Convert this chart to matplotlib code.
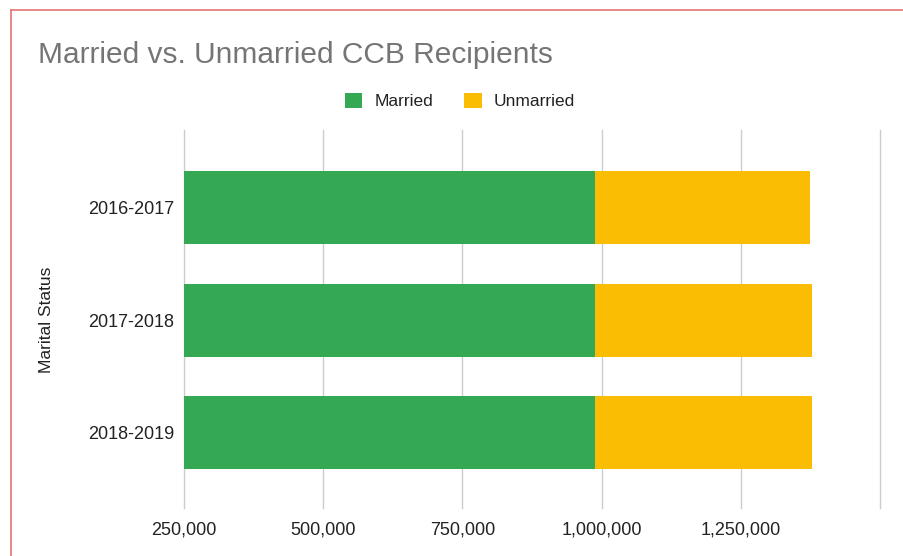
import matplotlib
matplotlib.use("Agg")
import matplotlib.pyplot as plt
from matplotlib.patches import Patch
from matplotlib.lines import Line2D

periods = ['2016-2017', '2017-2018', '2018-2019']
married = [988000, 988000, 988000]
unmarried = [386000, 389000, 389000]
xticks = [250000, 500000, 750000, 1000000, 1250000, 1500000]
xticklabels = ['250,000', '500,000', '750,000', '1,000,000', '1,250,000', '']

green = '#34A853'
yellow = '#FBBC04'

plt.rcParams['font.family'] = ['Liberation Sans', 'DejaVu Sans']

fig = plt.figure(figsize=(9.04, 5.56), dpi=100)
ax = fig.add_axes([184/904, 1-508/556, (880-184)/904, (508-130)/556])

y = list(range(len(periods)))
ax.barh(y, married, height=0.65, color=green, label='Married', zorder=3)
ax.barh(y, unmarried, left=married, height=0.65, color=yellow,
        label='Unmarried', zorder=3)

ax.set_xlim(250000, 1500000)
ax.set_ylim(2.67, -0.69)
ax.set_xticks(xticks)
ax.set_xticklabels(xticklabels)
ax.set_yticks(y)
ax.set_yticklabels(periods)
ax.tick_params(length=0, labelsize=13, colors='#222222')
ax.tick_params(axis='x', pad=10)
ax.tick_params(axis='y', pad=7)
ax.grid(axis='x', color='#cccccc', linewidth=1, zorder=0)
for gl in ax.get_xgridlines():
    gl.set_clip_on(False)
ax.axvline(250000, color='#b0b0b0', linewidth=1.2, zorder=1)
for s in ax.spines.values():
    s.set_visible(False)

fig.text(47/904, 1-320/556, 'Marital Status', rotation=90, ha='center',
         va='center', fontsize=12.5, color='#222222')

fig.text(38/904, 1-55/556, 'Married vs. Unmarried CCB Recipients',
         ha='left', va='center', fontsize=21.5, color='#757575')

handles = [Patch(facecolor=green, edgecolor='none'),
           Patch(facecolor=yellow, edgecolor='none')]
fig.legend(handles, ['Married', 'Unmarried'], loc='center',
           bbox_to_anchor=(460/904, 1-101/556), ncol=2, frameon=False,
           fontsize=12.5, handlelength=1.0, handleheight=1.0,
           handletextpad=0.7, columnspacing=1.8, labelcolor='#222222')

# red border on left and top
fig.add_artist(Line2D([10.5/904, 10.5/904], [0, 1-10/556],
                      color='#e57373', linewidth=1.2, transform=fig.transFigure))
fig.add_artist(Line2D([10.5/904, 1], [1-10/556, 1-10/556],
                      color='#e57373', linewidth=1.2, transform=fig.transFigure))

fig.savefig('out.png', dpi=100)
